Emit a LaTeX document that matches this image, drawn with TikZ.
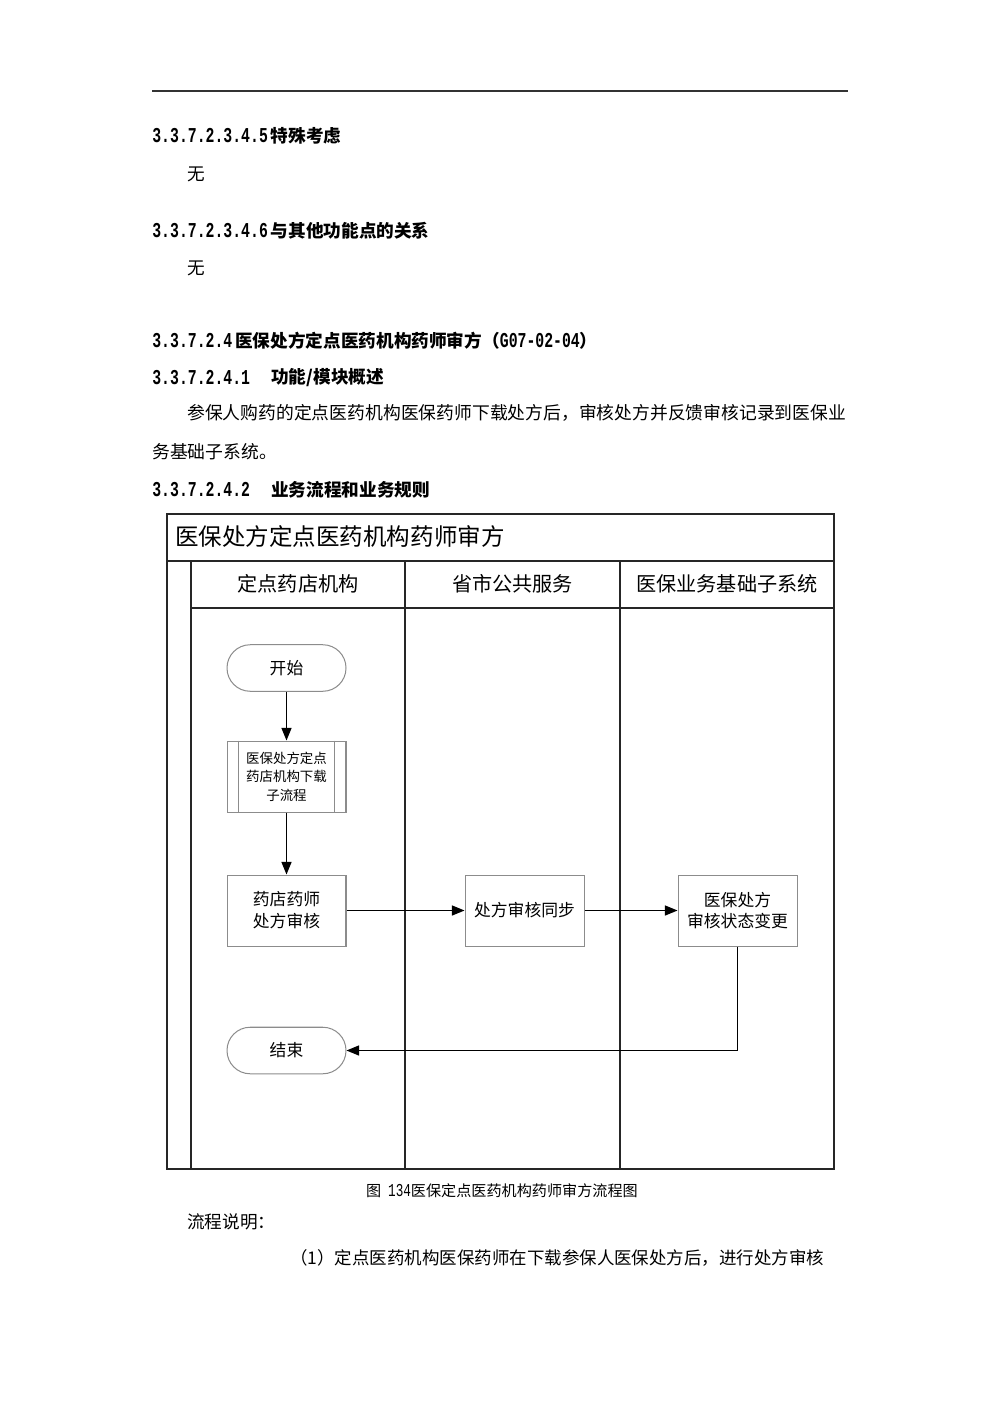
\documentclass[tikz,border=0pt]{standalone}
\usepackage{fontspec}
\setmainfont{Noto Sans CJK SC}
\newfontfamily\numfont{Liberation Mono}[Scale=1.2,FakeStretch=0.7]
\usetikzlibrary{arrows.meta}
\begin{document}
\begin{tikzpicture}[x=0.5953pt,y=-0.5953pt,
  txt/.style={anchor=west,inner sep=0pt,font=\fontsize{10.5pt}{12pt}\selectfont},
  head/.style={anchor=west,inner sep=0pt,font=\fontsize{10.5pt}{12pt}\selectfont\bfseries},
  lane/.style={draw=black!85,line width=0.75pt},
  proc/.style={draw=black!45,line width=0.6pt,minimum width=70.84pt,minimum height=42.27pt,inner sep=1pt,align=center,font=\fontsize{10pt}{13pt}\selectfont},
  term/.style={draw=black!45,line width=0.6pt,minimum width=70.84pt,minimum height=27.7pt,rounded corners=13.8pt,inner sep=1pt,font=\fontsize{10pt}{12pt}\selectfont},
  flow/.style={draw=black,line width=0.7pt,-{Triangle[length=7.5pt,width=6pt]}},
  lanehead/.style={inner sep=0pt,font=\fontsize{12pt}{14pt}\selectfont}]
\useasboundingbox (0,0) rectangle (1000,1415);
\fill[white] (0,0) rectangle (1000,1415);
% top rule
\draw[line width=0.9pt,black!80] (152,91) -- (848,91);
% headings and text
\node[head] (h1) at (152,136) {{\numfont 3.3.7.2.3.4.5}\,特殊考虑};
\node[txt] (t1) at (187,174) {无};
\node[head] (h2) at (152,231) {{\numfont 3.3.7.2.3.4.6}\,与其他功能点的关系};
\node[txt] (t2) at (187,268) {无};
\node[head] (h3) at (152,341) {{\numfont 3.3.7.2.4}\,医保处方定点医药机构药师审方（{\numfont G07-02-04}）};
\node[head] (h4) at (152,378) {{\numfont 3.3.7.2.4.1}};
\node[head] (h4b) at (271,378) {功能/模块概述};
\node[txt,font=\fontsize{10.6pt}{12pt}\selectfont] (p1) at (187,413) {参保人购药的定点医药机构医保药师下载处方后，审核处方并反馈审核记录到医保业};
\node[txt,font=\fontsize{10.6pt}{12pt}\selectfont] (p2) at (152,452) {务基础子系统。};
\node[head] (h5) at (152,490) {{\numfont 3.3.7.2.4.2}};
\node[head] (h5b) at (271,490) {业务流程和业务规则};
% swimlane frame
\draw[lane] (167,514) rectangle (834,1169);
\draw[lane] (167,561) -- (834,561);
\draw[lane] (191,561) -- (191,1169);
\draw[lane] (191,608) -- (834,608);
\draw[lane] (405,561) -- (405,1169);
\draw[lane] (620,561) -- (620,1169);
\node[anchor=west,inner sep=0pt,font=\fontsize{14pt}{16pt}\selectfont] (title) at (175,537) {医保处方定点医药机构药师审方};
\node[lanehead] (l1) at (298,584) {定点药店机构};
\node[lanehead] (l2) at (512.5,584) {省市公共服务};
\node[lanehead] (l3) at (727,584) {医保业务基础子系统};
% flow nodes
\node[term] (start) at (286.5,668) {开始};
\node[proc,font=\fontsize{8pt}{11pt}\selectfont] (sub) at (286.5,776.5) {医保处方定点\\药店机构下载\\子流程};
\draw[draw=black!45,line width=0.6pt] ([xshift=7.1pt]sub.north west) -- ([xshift=7.1pt]sub.south west);
\draw[draw=black!45,line width=0.6pt] ([xshift=-7.1pt]sub.north east) -- ([xshift=-7.1pt]sub.south east);
\node[proc] (b1) at (286.5,910.5) {药店药师\\处方审核};
\node[proc] (b2) at (524.5,910.5) {处方审核同步};
\node[proc] (b3) at (737.5,910.5) {医保处方\\审核状态变更};
\node[term] (end) at (286.5,1050.5) {结束};
\draw[flow] (start) -- (sub);
\draw[flow] (sub) -- (b1);
\draw[flow] (b1) -- (b2);
\draw[flow] (b2) -- (b3);
\draw[flow] (b3.south) |- (end.east);
% caption and text
\node[inner sep=0pt,font=\fontsize{9pt}{11pt}\selectfont] (cap) at (502,1191) {图\ \ {\numfont 134}医保定点医药机构药师审方流程图};
\node[txt] (t3) at (187,1222) {流程说明：};
\node[txt,font=\fontsize{10.4pt}{12pt}\selectfont] (t4) at (290,1258) {（1）定点医药机构医保药师在下载参保人医保处方后，进行处方审核};
\end{tikzpicture}
\end{document}
